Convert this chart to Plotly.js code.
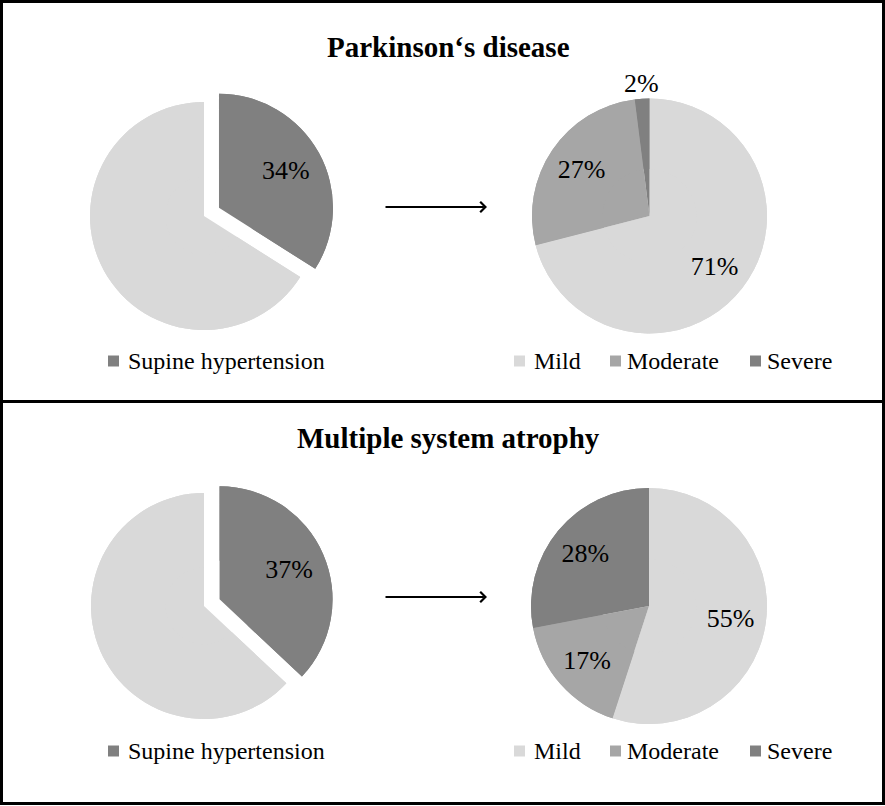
<!DOCTYPE html>
<html><head><meta charset="utf-8">
<script src="https://cdn.plot.ly/plotly-3.0.1.min.js"></script>
<style>
html,body{margin:0;padding:0;background:#fff}
.pielayer text{font-family:'Liberation Serif',serif !important;}
</style>
</head><body><div id="chart" style="width:885px;height:806px"></div>
<script>
// ---- data ----
const panelTitles = ['Parkinson\u2018s disease', 'Multiple system atrophy'];
const shLabels = ['Supine hypertension', 'No supine hypertension'];
const shPD = [34, 66];
const shMSA = [37, 63];
const sevLabels = ['Mild', 'Moderate', 'Severe'];
const sevPD = [71, 27, 2];
const sevMSA = [55, 17, 28];

// ---- styles ----
const W = 885, H = 806;
const FONT = 'Liberation Serif';
const shColors = ['#808080', '#d9d9d9'];
const sevColors = ['#d9d9d9', '#a6a6a6', '#808080'];
const PULL = 0.15;
const PCT_SIZE = 26;

function dom(cx, cy, r, pull) {
  const h = r * (1 + pull);
  return {x: [(cx - h) / W, (cx + h) / W], y: [1 - (cy + h) / H, 1 - (cy - h) / H]};
}
const px = v => v / W;
const py = v => 1 - v / H;

function pieTrace(labels, values, colors, domain, pull, textpos, hole) {
  const f = {family: FONT, size: PCT_SIZE, color: '#000'};
  return {
    type: 'pie', labels: labels, values: values, sort: false,
    direction: 'clockwise', rotation: 0, hole: hole,
    marker: {colors: colors, line: {width: 0}},
    pull: pull, domain: domain,
    texttemplate: '%{value}%', textposition: textpos,
    insidetextorientation: 'horizontal',
    textfont: f, insidetextfont: f, outsidetextfont: f,
    hoverinfo: 'skip', showlegend: false
  };
}

// each pie: a full base disc, plus a ring on top that carries the labels
const pies = [
  {labels: shLabels, values: shPD, colors: shColors, cx: 204, cy: 216, r: 114, pull: [PULL, 0], tp: ['inside', 'none'], hole: 0.34},
  {labels: sevLabels, values: sevPD, colors: sevColors, cx: 649.5, cy: 216, r: 117.5, pull: 0, tp: ['inside', 'inside', 'none'], hole: 0.4, outsideIdx: 2},
  {labels: shLabels, values: shMSA, colors: shColors, cx: 204, cy: 606, r: 113, pull: [PULL, 0], tp: ['inside', 'none'], hole: 0.34},
  {labels: sevLabels, values: sevMSA, colors: sevColors, cx: 649, cy: 606, r: 118, pull: 0, tp: 'inside', hole: 0.4}
];
const data = [];
const shapes = [];
const annotations = [];
pies.forEach(p => {
  const mp = Array.isArray(p.pull) ? Math.max(...p.pull) : p.pull;
  const d = dom(p.cx, p.cy, p.r, mp);
  data.push(pieTrace(p.labels, p.values, p.colors, d, p.pull, 'none', 0));
  data.push(pieTrace(p.labels, p.values, p.colors, d, p.pull, p.tp, p.hole));
  if (p.outsideIdx !== undefined) {
    // small slice: label just outside the rim, along the slice's mid-angle
    const total = p.values.reduce((a, b) => a + b, 0);
    const before = p.values.slice(0, p.outsideIdx).reduce((a, b) => a + b, 0);
    const th = 2 * Math.PI * (before + p.values[p.outsideIdx] / 2) / total;
    const rr = p.r * 1.13;
    annotations.push({text: p.values[p.outsideIdx] + '%', xref: 'paper', yref: 'paper',
      x: px(p.cx + rr * Math.sin(th)), y: py(p.cy - rr * Math.cos(th)),
      xanchor: 'center', yanchor: 'middle', showarrow: false,
      font: {family: FONT, size: PCT_SIZE, color: '#000'}});
  }
});

// frame and divider
shapes.push({type: 'rect', xref: 'paper', yref: 'paper', x0: px(1.5), x1: px(883.5), y0: py(1.5), y1: py(803.5),
  line: {color: '#000', width: 3}, fillcolor: 'rgba(0,0,0,0)'});
shapes.push({type: 'line', xref: 'paper', yref: 'paper', x0: 0, x1: 1, y0: py(401.5), y1: py(401.5),
  line: {color: '#000', width: 3}});

// panel titles
const titleY = [47, 438];
panelTitles.forEach((t, i) => annotations.push({
  text: '<b>' + t + '</b>', xref: 'paper', yref: 'paper', x: px(448.5), y: py(titleY[i]),
  xanchor: 'center', yanchor: 'middle', showarrow: false,
  font: {family: FONT, size: 29, color: '#000'}
}));

// arrows
const arrowY = [207, 597];
arrowY.forEach(y => annotations.push({
  text: '', xref: 'paper', yref: 'paper', x: px(487), y: py(y),
  ax: -103, ay: 0, axref: 'pixel', ayref: 'pixel', showarrow: true,
  arrowhead: 4, arrowsize: 1, arrowwidth: 2, arrowcolor: '#000', standoff: 0
}));

// legends
const legendY = [361, 751];
const SW = 11;
function legendItem(label, color, swX, txtX, y) {
  shapes.push({type: 'rect', xref: 'paper', yref: 'paper', x0: px(swX), x1: px(swX + SW),
    y0: py(y + SW / 2), y1: py(y - SW / 2), line: {width: 0}, fillcolor: color});
  annotations.push({text: label, xref: 'paper', yref: 'paper', x: px(txtX), y: py(y),
    xanchor: 'left', yanchor: 'middle', showarrow: false,
    font: {family: FONT, size: 24, color: '#000'}});
}
const sevSwX = [514, 610, 750];
const sevTxtX = [532, 625, 765];
legendY.forEach(y => {
  legendItem(shLabels[0], shColors[0], 108, 126, y);
  sevLabels.forEach((l, i) => legendItem(l, sevColors[i], sevSwX[i], sevTxtX[i], y));
});

const layout = {
  width: W, height: H, margin: {l: 0, r: 0, t: 0, b: 0},
  paper_bgcolor: '#fff', plot_bgcolor: '#fff',
  showlegend: false, shapes: shapes, annotations: annotations,
  font: {family: FONT}
};
Plotly.newPlot('chart', data, layout, {displayModeBar: false, staticPlot: true});
</script></body></html>
